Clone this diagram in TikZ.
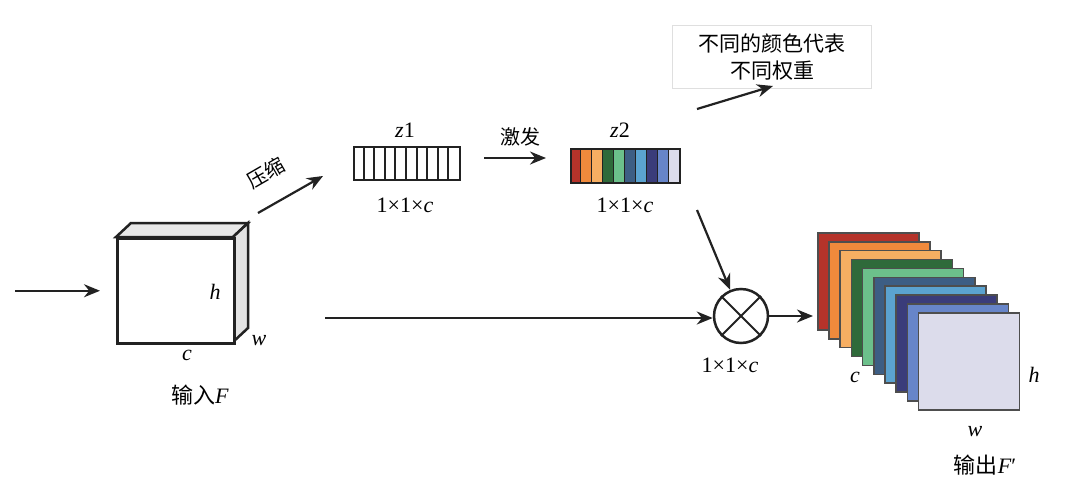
\documentclass[tikz,border=0pt]{standalone}
\usepackage{fontspec}
\setmainfont{Liberation Serif}
\newfontfamily\tnr{Liberation Serif}
\newfontfamily\cjk{Noto Sans CJK SC}
\usetikzlibrary{arrows.meta}
\definecolor{k1}{HTML}{B5332A}
\definecolor{k2}{HTML}{F08A3C}
\definecolor{k3}{HTML}{F6AE62}
\definecolor{k4}{HTML}{2F6A3A}
\definecolor{k5}{HTML}{6CC08B}
\definecolor{k6}{HTML}{3D5E84}
\definecolor{k7}{HTML}{5BA3D0}
\definecolor{k8}{HTML}{3A3C7A}
\definecolor{k9}{HTML}{6785C9}
\definecolor{k10}{HTML}{DCDCEB}
\definecolor{ink}{HTML}{222222}
\begin{document}
\begin{tikzpicture}[x=1pt,y=-1pt,
  arr/.style={-{Stealth[length=16pt,width=13pt]}, line width=2.2pt, draw=ink},
  lbl/.style={font=\tnr\fontsize{22}{24}\selectfont, inner sep=0pt},
  cn/.style={font=\cjk\fontsize{20}{26}\selectfont, inner sep=0pt},
  face/.style={draw=ink, line width=2.5pt, line join=miter}]
\useasboundingbox (0,0) rectangle (1080,496);
% input cube
\draw[face, fill=gray!18] (116,237) -- (131,223) -- (248,223) -- (233,237) -- cycle;
\draw[face, fill=gray!22] (233,237) -- (248,223) -- (248,328) -- (233,342) -- cycle;
\node[face, fill=white, anchor=north west, minimum width=117pt, minimum height=105pt, inner sep=0pt] (cube) at (116,237) {};
\node[lbl] (lh) at (215,292) {\textit{h}};
\node[lbl] (lw) at (259,341) {\textit{w}};
\node[lbl] (lc) at (187,355) {\textit{c}};
\node[lbl] (lin) at (200,395) {{\cjk 输入}\textit{F}};
\path (cube.west) ++(-101,0) coordinate (inS);
\draw[arr, shorten >=16pt] (inS) -- (cube.west);
% compress arrow
\coordinate (cs) at (258,213);
\coordinate (ce) at (323,176);
\draw[arr] (cs) -- (ce);
\node[cn, rotate=30] (lcomp) at (266,173) {压缩};
% z1
\node[draw=ink, line width=2.2pt, anchor=north west, minimum width=106pt, minimum height=33pt, inner sep=0pt] (z1) at (353,146) {};
\foreach \i in {1,...,9} { \draw[ink, line width=2pt] (353+\i*10.6,146) -- (353+\i*10.6,179); }
\node[lbl] (lz1) at (405,130) {\textit{z}1};
\node[lbl] (ld1) at (405,205) {1×1×\textit{c}};
% excite arrow
\coordinate (es) at (484,158);
\coordinate (ee) at (546,158);
\draw[arr] (es) -- (ee);
\node[cn] (lexc) at (520,137) {激发};
% z2
\foreach \i in {1,...,10} {
  \pgfmathsetmacro{\xx}{570+(\i-1)*10.9}
  \fill[k\i] (\xx,148) rectangle ++(10.9,34);
  \draw[ink, line width=1pt] (\xx,148) -- (\xx,182);
}
\node[draw=ink, line width=2.2pt, anchor=north west, minimum width=109pt, minimum height=34pt, inner sep=0pt] (z2) at (570,148) {};
\node[lbl] (lz2) at (620,130) {\textit{z}2};
\node[lbl] (ld2) at (625,205) {1×1×\textit{c}};
% legend box
\node[draw=gray!25, line width=1.5pt, minimum width=199pt, minimum height=63pt, align=center, font=\cjk\fontsize{21}{27}\selectfont] (box) at (772,57) {不同的颜色代表\\不同权重};
\coordinate (bs) at (697,109);
\coordinate (be) at (773,86);
\draw[arr] (bs) -- (be);
% multiply
\node[circle, draw=ink, line width=2.5pt, minimum size=54pt, inner sep=0pt] (mul) at (741,316) {};
\draw[ink, line width=2pt] (mul.north west) -- (mul.south east);
\draw[ink, line width=2pt] (mul.north east) -- (mul.south west);
\node[lbl] (ld3) at (730,365) {1×1×\textit{c}};
\coordinate (ms) at (697,210);
\draw[arr] (ms) -- (mul);
\coordinate (lowS) at (325,318);
\draw[arr] (lowS) -- (mul.west |- lowS);
% output stack
\foreach \i in {1,...,10} {
  \node[draw=ink!80, line width=1.6pt, fill=k\i, anchor=north west, minimum width=101pt, minimum height=97pt, inner sep=0pt] (s\i) at ({817+(\i-1)*11.2},{232+(\i-1)*8.9}) {};
}
\draw[arr, shorten >=4pt] (mul.east) -- (mul.east -| s1.west);
\node[lbl] (oc) at (855,377) {\textit{c}};
\node[lbl] (oh) at (1034,375) {\textit{h}};
\node[lbl] (ow) at (975,432) {\textit{w}};
\node[lbl] (lout) at (985,465) {{\cjk 输出}\textit{F}′};
\end{tikzpicture}
\end{document}
